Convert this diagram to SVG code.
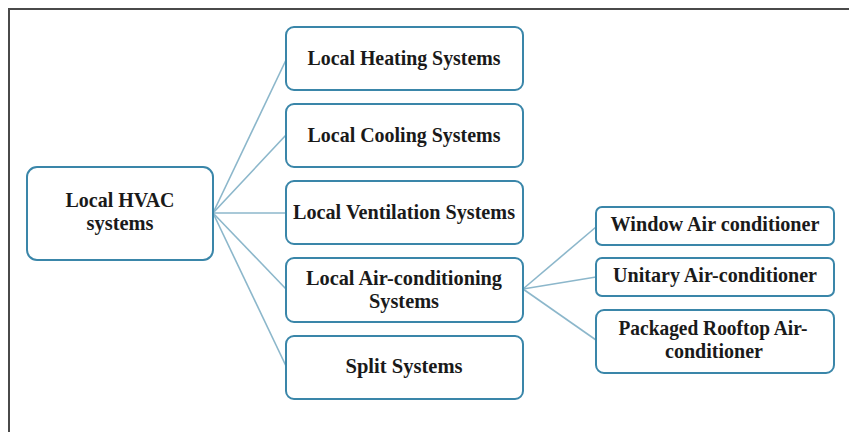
<svg xmlns="http://www.w3.org/2000/svg" width="849" height="432" viewBox="0 0 849 432">
  <style>
    .box { fill: #ffffff; stroke: #3a86a9; stroke-width: 2; }
    .link { stroke: #8cb7cb; stroke-width: 1.6; fill: none; }
    .label { font-family: "Liberation Serif", "Times New Roman", serif; font-weight: bold; font-size: 21px; fill: #1a1a1a; text-anchor: middle; }
    .frame { stroke: #4a4a4a; stroke-width: 2; fill: none; }
  </style>
  <rect width="849" height="432" fill="#ffffff"/>
  <!-- frame: top and left edges only -->
  <path class="frame" d="M9 432 V9 H849"/>

  <g id="connectors">
    <line class="link" x1="213" y1="213" x2="286" y2="60"/>
    <line class="link" x1="213" y1="213" x2="286" y2="135"/>
    <line class="link" x1="213" y1="213" x2="286" y2="213"/>
    <line class="link" x1="213" y1="213" x2="286" y2="289"/>
    <line class="link" x1="213" y1="213" x2="286" y2="366"/>
    <line class="link" x1="523" y1="289" x2="596" y2="227"/>
    <line class="link" x1="523" y1="289" x2="596" y2="277"/>
    <line class="link" x1="523" y1="289" x2="596" y2="340"/>
  </g>

  <g id="local-hvac">
    <rect class="box" x="27" y="167" width="186" height="93" rx="10"/>
    <text class="label" x="120" y="207" textLength="109" lengthAdjust="spacingAndGlyphs">Local HVAC</text>
    <text class="label" x="120" y="230" textLength="67" lengthAdjust="spacingAndGlyphs">systems</text>
  </g>

  <g id="heating">
    <rect class="box" x="286" y="27" width="237" height="63" rx="8"/>
    <text class="label" x="404" y="65" textLength="193" lengthAdjust="spacingAndGlyphs">Local Heating Systems</text>
  </g>

  <g id="cooling">
    <rect class="box" x="286" y="104" width="237" height="63" rx="8"/>
    <text class="label" x="404" y="142" textLength="193" lengthAdjust="spacingAndGlyphs">Local Cooling Systems</text>
  </g>

  <g id="ventilation">
    <rect class="box" x="286" y="181" width="237" height="63" rx="8"/>
    <text class="label" x="404" y="219" textLength="222" lengthAdjust="spacingAndGlyphs">Local Ventilation Systems</text>
  </g>

  <g id="air-conditioning">
    <rect class="box" x="286" y="258" width="237" height="64" rx="8"/>
    <text class="label" x="404" y="285" textLength="196" lengthAdjust="spacingAndGlyphs">Local Air-conditioning</text>
    <text class="label" x="404" y="308" textLength="70" lengthAdjust="spacingAndGlyphs">Systems</text>
  </g>

  <g id="split">
    <rect class="box" x="286" y="336" width="237" height="63" rx="8"/>
    <text class="label" x="404" y="373" textLength="117" lengthAdjust="spacingAndGlyphs">Split Systems</text>
  </g>

  <g id="window-ac">
    <rect class="box" x="596" y="207" width="238" height="38" rx="6"/>
    <text class="label" x="715" y="231" textLength="209" lengthAdjust="spacingAndGlyphs">Window Air conditioner</text>
  </g>

  <g id="unitary-ac">
    <rect class="box" x="596" y="258" width="238" height="38" rx="6"/>
    <text class="label" x="715" y="282" textLength="204" lengthAdjust="spacingAndGlyphs">Unitary Air-conditioner</text>
  </g>

  <g id="rooftop-ac">
    <rect class="box" x="596" y="310" width="238" height="63" rx="8"/>
    <text class="label" x="713" y="335" textLength="189" lengthAdjust="spacingAndGlyphs">Packaged Rooftop Air-</text>
    <text class="label" x="714" y="358" textLength="98" lengthAdjust="spacingAndGlyphs">conditioner</text>
  </g>
</svg>
